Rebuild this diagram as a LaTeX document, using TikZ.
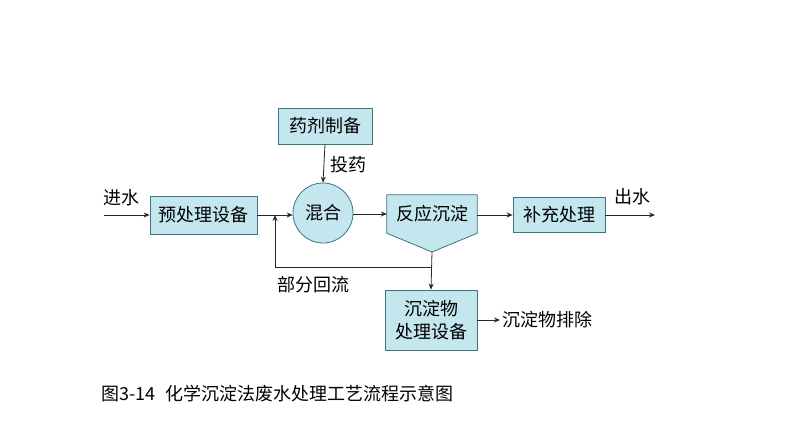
\documentclass[tikz,border=0pt]{standalone}
\usepackage{fontspec}
\newfontfamily\cjk{Noto Sans CJK SC}
\usetikzlibrary{arrows.meta}
\definecolor{boxfill}{HTML}{C4E6EE}
\definecolor{boxline}{HTML}{3C7580}
\begin{document}
\begin{tikzpicture}[x=1pt,y=-1pt,
  box/.style={draw=boxline,fill=boxfill,line width=0.8pt,inner sep=0pt,font=\cjk\fontsize{18}{21}\selectfont},
  lbl/.style={inner sep=0pt,font=\cjk\fontsize{18}{21}\selectfont},
  flow/.style={draw=black!85,line width=0.8pt,-{Stealth[length=6pt,width=5pt]}},
  plain/.style={draw=black!85,line width=0.8pt}]
\useasboundingbox[fill=white] (0,0) rectangle (794,447);
% boxes
\node[box,minimum width=94pt,minimum height=36pt] (drug) at (325,126) {药剂制备};
\node[box,minimum width=107pt,minimum height=38pt] (pre) at (203.5,215) {预处理设备};
\node[box,circle,minimum size=60pt] (mix) at (323,213) {混合};
\node[lbl,minimum width=90pt,minimum height=38pt] (react) at (432,214) {};
\coordinate (tip) at (432,252);
\path[draw=boxline,fill=boxfill,line width=0.8pt] (react.north west) -- (react.north east) -- (react.south east) -- (tip) -- (react.south west) -- cycle;
\node[lbl] at (react.center) {反应沉淀};
\node[box,minimum width=92pt,minimum height=35pt] (sup) at (559,215) {补充处理};
\node[box,minimum width=92pt,minimum height=60pt,align=center,font=\cjk\fontsize{18}{23}\selectfont] (sl) at (431,320) {沉淀物\\处理设备};
% coordinates
\coordinate (in) at (104,215);
\coordinate (out) at (655,215);
\coordinate (junc) at (432,267);
\coordinate (retc) at (275,267);
\coordinate (rett) at (275,215);
\coordinate (slout) at (500,320);
% connectors
\draw[flow] (in) -- (pre.west);
\draw[flow] (pre.east) -- (mix.west |- pre.east);
\draw[flow] (drug.south) -- (mix.north);
\draw[flow] (mix.east |- react.west) -- (react.west);
\draw[flow] (react.east |- sup.west) -- (sup.west);
\draw[flow] (sup.east) -- (out);
\draw[flow] (tip) -- (sl.north);
\draw[plain] (junc) -- (retc);
\draw[flow] (retc) -- (rett);
\draw[flow] (sl.east) -- (slout);
% labels
\node[lbl] (jinshui) at (121,198) {进水};
\node[lbl] (chushui) at (632,197) {出水};
\node[lbl] (touyao) at (348,165) {投药};
\node[lbl] (huiliu) at (313,285) {部分回流};
\node[lbl,anchor=west] (paichu) at (502,320) {沉淀物排除};
\node[lbl,anchor=west,font=\cjk\fontsize{18}{21}\selectfont] (cap) at (101,394) {图3-14\hspace{0.55em}化学沉淀法废水处理工艺流程示意图};
\end{tikzpicture}
\end{document}
